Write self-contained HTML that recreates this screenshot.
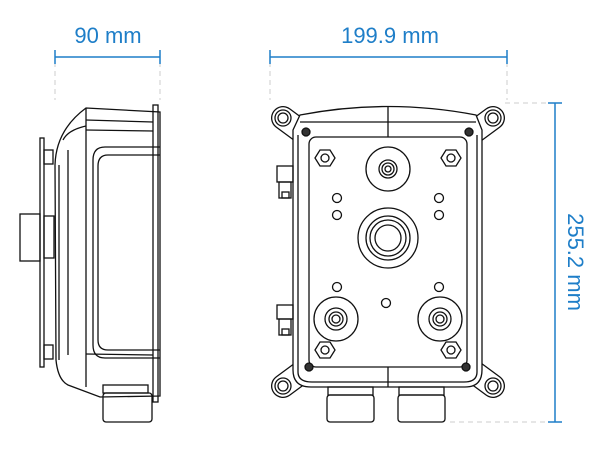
<!DOCTYPE html>
<html><head><style>body{margin:0;background:#fff}svg{display:block}</style></head><body>
<svg width="610" height="452" viewBox="0 0 610 452" xmlns="http://www.w3.org/2000/svg">
<g stroke="#ccc" stroke-width="1" stroke-dasharray="5,4" fill="none">
<line x1="55" y1="62" x2="55" y2="100"/><line x1="160" y1="62" x2="160" y2="100"/>
<line x1="270" y1="62" x2="270" y2="100"/><line x1="507" y1="62" x2="507" y2="100"/>
<line x1="505" y1="103" x2="560" y2="103"/><line x1="450" y1="422" x2="560" y2="422"/>
</g>
<g stroke="#1e7ec8" stroke-width="1.5" fill="none">
<line x1="55" y1="57" x2="160" y2="57"/><line x1="55" y1="50" x2="55" y2="64"/><line x1="160" y1="50" x2="160" y2="64"/>
<line x1="270" y1="57" x2="507" y2="57"/><line x1="270" y1="50" x2="270" y2="64"/><line x1="507" y1="50" x2="507" y2="64"/>
<line x1="555" y1="103" x2="555" y2="422"/><line x1="548" y1="103" x2="562" y2="103"/><line x1="548" y1="422" x2="562" y2="422"/>
</g>
<g fill="#1e7ec8" font-family="Liberation Sans, sans-serif" font-size="22">
<text x="108" y="43" text-anchor="middle">90 mm</text>
<text x="390" y="43" text-anchor="middle">199.9 mm</text>
<text transform="translate(568,262) rotate(90)" text-anchor="middle">255.2 mm</text>
</g>
<!-- side view -->
<g stroke="#111" stroke-width="1.3" fill="none">
<rect x="40" y="138" width="4" height="229"/>
<rect x="20" y="214" width="20" height="47"/>
<rect x="44" y="216" width="10" height="42"/>
<rect x="44" y="150" width="9" height="14"/><rect x="44" y="345" width="9" height="14"/>
<path d="M86 108 L160 112 L160 396 L100 397 L68 385 Q58 380 56 360 L55 165 Q56 130 86 108 Z"/>
<line x1="86" y1="108" x2="86" y2="387"/>
<line x1="86" y1="120" x2="153" y2="122"/><line x1="86" y1="130" x2="153" y2="131"/>
<line x1="86" y1="354" x2="153" y2="355"/>
<path d="M160 147 L105 147 Q93 147 93 160 L93 345 Q93 358 105 358 L160 358"/>
<path d="M160 155 L108 155 Q98 155 98 166 L98 340 Q98 350 108 350 L160 350"/>
<path d="M63 140 Q68 130 86 126" /><path d="M59 165 L59 360"/><path d="M68 150 L68 355"/>
<rect x="153" y="105" width="5" height="297"/>
<rect x="103" y="385" width="45" height="8"/>
<rect x="103" y="393" width="49" height="29" rx="3"/>
</g>
<!-- ears -->
<g stroke-linecap="round">
<g stroke="#111" stroke-width="24">
<line x1="283" y1="118" x2="302" y2="132"/><line x1="493" y1="118" x2="474" y2="132"/>
<line x1="283" y1="386" x2="302" y2="372"/><line x1="493" y1="386" x2="474" y2="372"/>
</g>
<g stroke="#fff" stroke-width="21.4">
<line x1="283" y1="118" x2="302" y2="132"/><line x1="493" y1="118" x2="474" y2="132"/>
<line x1="283" y1="386" x2="302" y2="372"/><line x1="493" y1="386" x2="474" y2="372"/>
</g>
</g>
<!-- front view -->
<g stroke="#111" stroke-width="1.3" fill="none">
<path fill="#fff" d="M300 115 Q388 98 476 115 L482 130 L482 370 Q482 387 465 387 L311 387 Q293 387 293 370 L293 130 Z"/>
<path d="M300 122 L476 122 M298 135 L298 372 Q298 382 312 382 L464 382 Q477 382 477 372 L477 135"/>
<line x1="388" y1="106" x2="388" y2="137"/><line x1="388" y1="367" x2="388" y2="387"/>
<rect x="309" y="137" width="158" height="230" rx="7"/>
<circle cx="283" cy="118" r="8"/><circle cx="283" cy="118" r="5"/>
<circle cx="493" cy="118" r="8"/><circle cx="493" cy="118" r="5"/>
<circle cx="283" cy="386" r="8"/><circle cx="283" cy="386" r="5"/>
<circle cx="493" cy="386" r="8"/><circle cx="493" cy="386" r="5"/>
<circle cx="306" cy="132" r="4" fill="#333"/><circle cx="469" cy="132" r="4" fill="#333"/>
<circle cx="309" cy="367" r="4" fill="#333"/><circle cx="466" cy="367" r="4" fill="#333"/>
<circle cx="388" cy="169" r="22"/><circle cx="388" cy="169" r="9"/><circle cx="388" cy="169" r="6"/><circle cx="388" cy="169" r="3"/>
<circle cx="388" cy="238" r="30"/><circle cx="388" cy="238" r="22"/><circle cx="388" cy="238" r="18"/><circle cx="388" cy="238" r="13"/>
<circle cx="336" cy="319" r="22"/><circle cx="336" cy="319" r="11"/><circle cx="336" cy="319" r="7"/><circle cx="336" cy="319" r="4"/>
<circle cx="440" cy="319" r="22"/><circle cx="440" cy="319" r="11"/><circle cx="440" cy="319" r="7"/><circle cx="440" cy="319" r="4"/>
<circle cx="337" cy="198" r="4.5"/><circle cx="337" cy="215" r="4.5"/><circle cx="439" cy="198" r="4.5"/><circle cx="439" cy="215" r="4.5"/>
<circle cx="337" cy="287" r="4.5"/><circle cx="439" cy="287" r="4.5"/><circle cx="386" cy="303" r="4.5"/>
<path d="M315 158 L320 150 L330 150 L335 158 L330 166 L320 166 Z"/><circle cx="325" cy="158" r="4"/>
<path d="M441 158 L446 150 L456 150 L461 158 L456 166 L446 166 Z"/><circle cx="451" cy="158" r="4"/>
<path d="M315 350 L320 342 L330 342 L335 350 L330 358 L320 358 Z"/><circle cx="325" cy="350" r="4"/>
<path d="M441 350 L446 342 L456 342 L461 350 L456 358 L446 358 Z"/><circle cx="451" cy="350" r="4"/>
<rect x="328" y="387" width="45" height="8"/><rect x="327" y="395" width="47" height="27" rx="3"/>
<rect x="399" y="387" width="45" height="8"/><rect x="398" y="395" width="47" height="27" rx="3"/>
<rect x="277" y="166" width="16" height="16"/><rect x="279" y="182" width="12" height="16"/><rect x="282" y="192" width="7" height="6"/>
<rect x="277" y="305" width="16" height="14"/><rect x="279" y="319" width="12" height="16"/><rect x="282" y="329" width="7" height="6"/>
</g>
</svg>
</body></html>
